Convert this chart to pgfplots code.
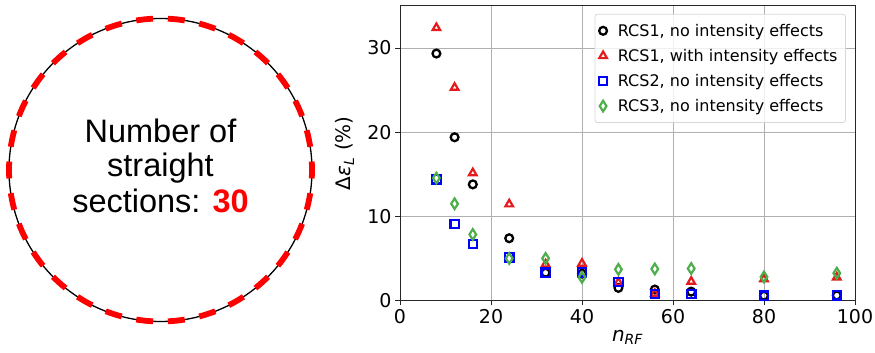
\documentclass[border=0pt]{standalone}
\usepackage{fontspec}
\setmainfont{DejaVu Sans}
\newfontfamily\arial{Liberation Sans}
\usepackage{pgfplots}
\pgfplotsset{compat=1.18}
\definecolor{mred}{RGB}{228,26,28}
\definecolor{mblue}{RGB}{0,0,255}
\definecolor{mgreen}{RGB}{77,175,74}
\definecolor{gridgray}{RGB}{176,176,176}
\definecolor{legframe}{RGB}{215,215,215}

\pgfplotstableread{
x y
8 29.35
12 19.4
16 13.8
24 7.4
32 3.3
40 3.2
48 1.5
56 1.3
64 1.05
80 0.57
96 0.6
}\rcsonenoint
\pgfplotstableread{
x y
8 32.4
12 25.3
16 15.15
24 11.45
32 4.3
40 4.4
48 2.15
56 0.8
64 2.25
80 2.55
96 2.75
}\rcsonewith
\pgfplotstableread{
x y
8 14.4
12 9.1
16 6.7
24 5.1
32 3.3
40 3.35
48 2.2
56 0.75
64 0.75
80 0.57
96 0.62
}\rcstwo
\pgfplotstableread{
x y
8 14.55
12 11.5
16 7.85
24 5.0
32 5.0
40 2.75
48 3.7
56 3.75
64 3.8
80 2.8
96 3.25
}\rcsthree

\begin{document}
\begin{tikzpicture}[x=1pt,y=1pt]
\useasboundingbox (0,0) rectangle (875,353);
% ring with 30 straight sections
\draw[black, line width=1.3pt] (160.5,183) circle[radius=151.5];
\foreach \a in {0,12,...,348} {
  \draw[red, line width=5.8pt] ([shift={(\a-3.2:151.5)}]160.5,183) arc[start angle=\a-3.2, end angle=\a+3.2, radius=151.5];
}
\node[font=\arial\fontsize{32.5}{32.5}\selectfont, anchor=base, inner sep=0pt] at (160.5,210) {Number of};
\node[font=\arial\fontsize{32.5}{32.5}\selectfont, anchor=base, inner sep=0pt] at (160.5,176) {straight};
\node[font=\arial\fontsize{32.5}{32.5}\selectfont, anchor=base, inner sep=0pt] at (160.5,140) {sections: \textcolor{red}{\bfseries 30}};

\begin{axis}[
  at={(400pt,52.5pt)}, anchor=south west,
  scale only axis, width=455pt, height=294.5pt,
  xmin=0, xmax=100, ymin=0, ymax=35,
  xtick={0,20,40,60,80,100}, ytick={0,10,20,30},
  grid=major,
  major grid style={line width=0.9pt, color=gridgray},
  axis line style={line width=1pt, black!85},
  tick align=outside, tick pos=left,
  major tick length=5pt,
  tick style={line width=1pt, black!85},
  /pgf/number format/assume math mode=true,
  tick label style={font=\fontsize{19}{19}\selectfont},
  xlabel={\itshape n\textsubscript{RF}},
  ylabel={Δ{\itshape ε\textsubscript{L}} (\%)},
  label style={font=\fontsize{20}{20}\selectfont},
  xlabel style={at={(axis description cs:0.5,-0.139)}, anchor=base},
  ylabel style={at={(axis description cs:-0.121,0.5)}, anchor=center, rotate=0},
  legend cell align=left,
  legend image code/.code={\draw[#1] plot coordinates {(0pt,0pt)};},
  legend style={
    at={(axis description cs:0.980,0.973)}, anchor=north east,
    font=\fontsize{16}{16}\selectfont,
    draw=legframe, line width=0.8pt, rounded corners=2.5pt,
    fill=white, fill opacity=0.8, text opacity=1,
    inner xsep=4pt, inner ysep=3.9pt, row sep=0pt, column sep=6.6pt,
    nodes={text height=15.35pt, text depth=3.75pt, inner ysep=3pt, inner xsep=4pt},
  },
]
\addplot[only marks, mark=o, black, line width=2.3pt, mark size=3.9pt] table[x=x,y=y] {\rcsonenoint};
\addlegendentry{RCS1, no intensity effects}
\addplot[only marks, mark=triangle, mred, line width=2.2pt, mark size=4.4pt] table[x=x,y=y] {\rcsonewith};
\addlegendentry{RCS1, with intensity effects}
\addplot[only marks, mark=square, mblue, line width=2.2pt, mark size=4.2pt] table[x=x,y=y] {\rcstwo};
\addlegendentry{RCS2, no intensity effects}
\addplot[only marks, mark=diamond, mgreen, line width=2.2pt, mark size=5.3pt, mark options={xscale=0.84}] table[x=x,y=y] {\rcsthree};
\addlegendentry{RCS3, no intensity effects}
\end{axis}
\end{tikzpicture}
\end{document}
